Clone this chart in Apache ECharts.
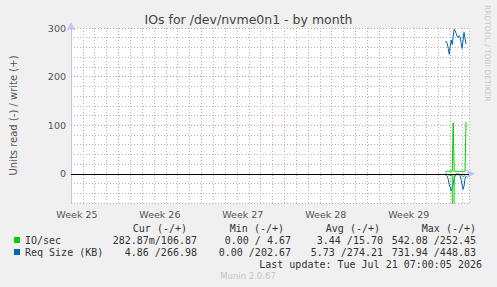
<!DOCTYPE html>
<html>
<head>
<meta charset="utf-8">
<script src="https://cdn.jsdelivr.net/npm/echarts@6/dist/echarts.min.js"></script>
<style>
html,body{margin:0;padding:0;background:#f0f0f0;}
#c{width:497px;height:287px;}
</style>
</head>
<body>
<div id="c"></div>
<script>
// ---- data (hours since left edge of the graph; 2 hour steps) ----
const hours = [758,760,762,764,766,768,770,772,774,776,778,780,782,784,786,788,790,792,794,796,798,800];
const ioWrite = [5.2,4.9,5.5,5.0,4.8,6.1,5.3,5.0,105,5.6,5.1,4.9,5.2,5.4,4.8,5.0,5.3,5.7,5.1,4.9,5.2,106.87];
const ioRead  = [0.3,0.5,1.2,2,3,4,3,2,542,3,1,0.5,0.3,0.3,0.5,1,2,4,6,5,3,0.28];
const reqWrite = [271,272,268,258,246,262,275,266,282,298,294,289,283,280,284,282,270,258,275,291,278,266.98];
const reqRead  = [2,3,5,12,22,28,35,30,20,10,4,2,1.5,1.5,2,4,12,22,32,25,10,4.86];

const weekLabels = ['Week 25','Week 26','Week 27','Week 28','Week 29'];
const weekMid = [12,180,348,516,684];
const weekBounds = [96,264,432,600,768];
const yTickLabels = [0,100,200,300];
const yMajor = [100,200,300];

const colHeads = ['Cur (-/+)','Min (-/+)','Avg (-/+)','Max (-/+)'];
const ioCells  = ['282.87m/106.87','0.00 / 4.67','3.44 /15.70','542.08 /252.45'];
const reqCells = ['4.86 /266.98','0.00 /202.67','5.73 /274.21','731.94 /448.83'];
const seriesNames = ['IO/sec','Req Size (KB)'];
const lastUpdate = 'Last update: Tue Jul 21 07:00:05 2026';

// ---- layout / style ----
const GREEN = '#00cc00', BLUE = '#0066b3';
const MONO = '"DejaVu Sans Mono", monospace';
const SANS = '"DejaVu Sans", sans-serif';
const colEdge = [197,291,383,476];
const headEdge = [187,284,380,476];

function pairs(v, sign){ return hours.map((h,i)=>[h, sign*v[i]]); }

const g = [];
function txt(x,y,text,align,opts){
  g.push({type:'text', x:x, y:y, silent:true,
    style:Object.assign({text:text, fill:'#333', font:'10px '+MONO, textAlign:align||'left', textVerticalAlign:'middle'}, (opts||{}))});
}
colHeads.forEach((t,i)=>txt(headEdge[i],228,t,'right'));
ioCells.forEach((t,i)=>txt(colEdge[i],240,t,'right'));
reqCells.forEach((t,i)=>txt(colEdge[i],252,t,'right'));
txt(482, 264, lastUpdate, 'right');
txt(248, 276, 'Munin 2.0.67', 'center', {fill:'#c4c4c4', font:'8.5px '+SANS});
g.push({type:'text', x:491, y:5, rotation:-Math.PI/2, silent:true,
  style:{text:'RRDTOOL / TOBI OETIKER', fill:'#c8c8c8', font:'7.5px '+SANS, textAlign:'left', textVerticalAlign:'top'}});

const chart = echarts.init(document.getElementById('c'), null, {renderer:'svg'});
const gray = '#b4b4b4', red = '#e69494';
const majorLines = weekBounds.map(h=>({xAxis:h})).concat(yMajor.map(v=>({yAxis:v})));
chart.setOption({
  backgroundColor:'#f0f0f0',
  animation:false,
  title:{text:'IOs for /dev/nvme0n1 - by month', left:'center', top:8,
    textStyle:{fontFamily:SANS, fontSize:12.5, fontWeight:'normal', color:'#444'}},
  legend:{data:seriesNames, orient:'vertical', left:14, top:234, padding:0, itemWidth:6, itemHeight:6, itemGap:0,
    icon:'rect', selectedMode:false,
    textStyle:{fontFamily:MONO, fontSize:10, color:'#333', lineHeight:12}},
  grid:{left:66, top:28, width:403, height:175, show:true, backgroundColor:'#ffffff', borderWidth:0},
  xAxis:{type:'value', min:0, max:806, interval:24,
    axisLine:{show:true, lineStyle:{color:'#c4c4f4', width:1}, symbol:['none','arrow'], symbolSize:[7,9], symbolOffset:[0,6]},
    axisTick:{show:false},
    axisLabel:{customValues:weekMid, formatter:(v)=>weekLabels[weekMid.indexOf(v)]||'',
      color:'#555', fontFamily:SANS, fontSize:9.5, margin:6},
    splitLine:{show:true, lineStyle:{color:gray, type:[1,2], width:1}}},
  yAxis:{type:'value', min:-60, max:300, interval:20,
    name:'Units read (-) / write (+)', nameLocation:'middle', nameGap:53, nameRotate:90,
    nameTextStyle:{fontFamily:SANS, fontSize:10, color:'#555'},
    axisLine:{show:true, lineStyle:{color:'#c4c4f4', width:1}, symbol:['none','arrow'], symbolSize:[7,9], symbolOffset:[0,6]},
    axisTick:{show:false},
    axisLabel:{customValues:yTickLabels, color:'#555', fontFamily:SANS, fontSize:9.5, margin:5},
    splitLine:{show:true, lineStyle:{color:gray, type:[1,2], width:1}}},
  graphic:g,
  series:[
    {name:'grid-major', type:'line', data:[], z:1,
      markLine:{silent:true, z:1, symbol:'none', label:{show:false}, animation:false,
        lineStyle:{color:red, type:[1,2], width:1}, data:majorLines}},
    {name:'Req Size (KB) read', type:'line', data:pairs(reqRead,-1), color:BLUE, showSymbol:false, symbol:'none',
      lineStyle:{width:1, color:BLUE}, clip:true, z:3,
      markLine:{silent:true, symbol:'none', label:{show:false}, lineStyle:{color:'#000', type:'solid', width:1},
        data:[{yAxis:0}]}},
    {name:'Req Size (KB)', type:'line', data:pairs(reqWrite,1), color:BLUE, showSymbol:false, symbol:'none',
      lineStyle:{width:1, color:BLUE}, clip:true, z:3},
    {name:'IO/sec read', type:'line', data:pairs(ioRead,-1), color:GREEN, showSymbol:false, symbol:'none',
      lineStyle:{width:1, color:GREEN}, clip:true, z:4},
    {name:'IO/sec', type:'line', data:pairs(ioWrite,1), color:GREEN, showSymbol:false, symbol:'none',
      lineStyle:{width:1, color:GREEN}, clip:true, z:4}
  ]
});
</script>
</body>
</html>
